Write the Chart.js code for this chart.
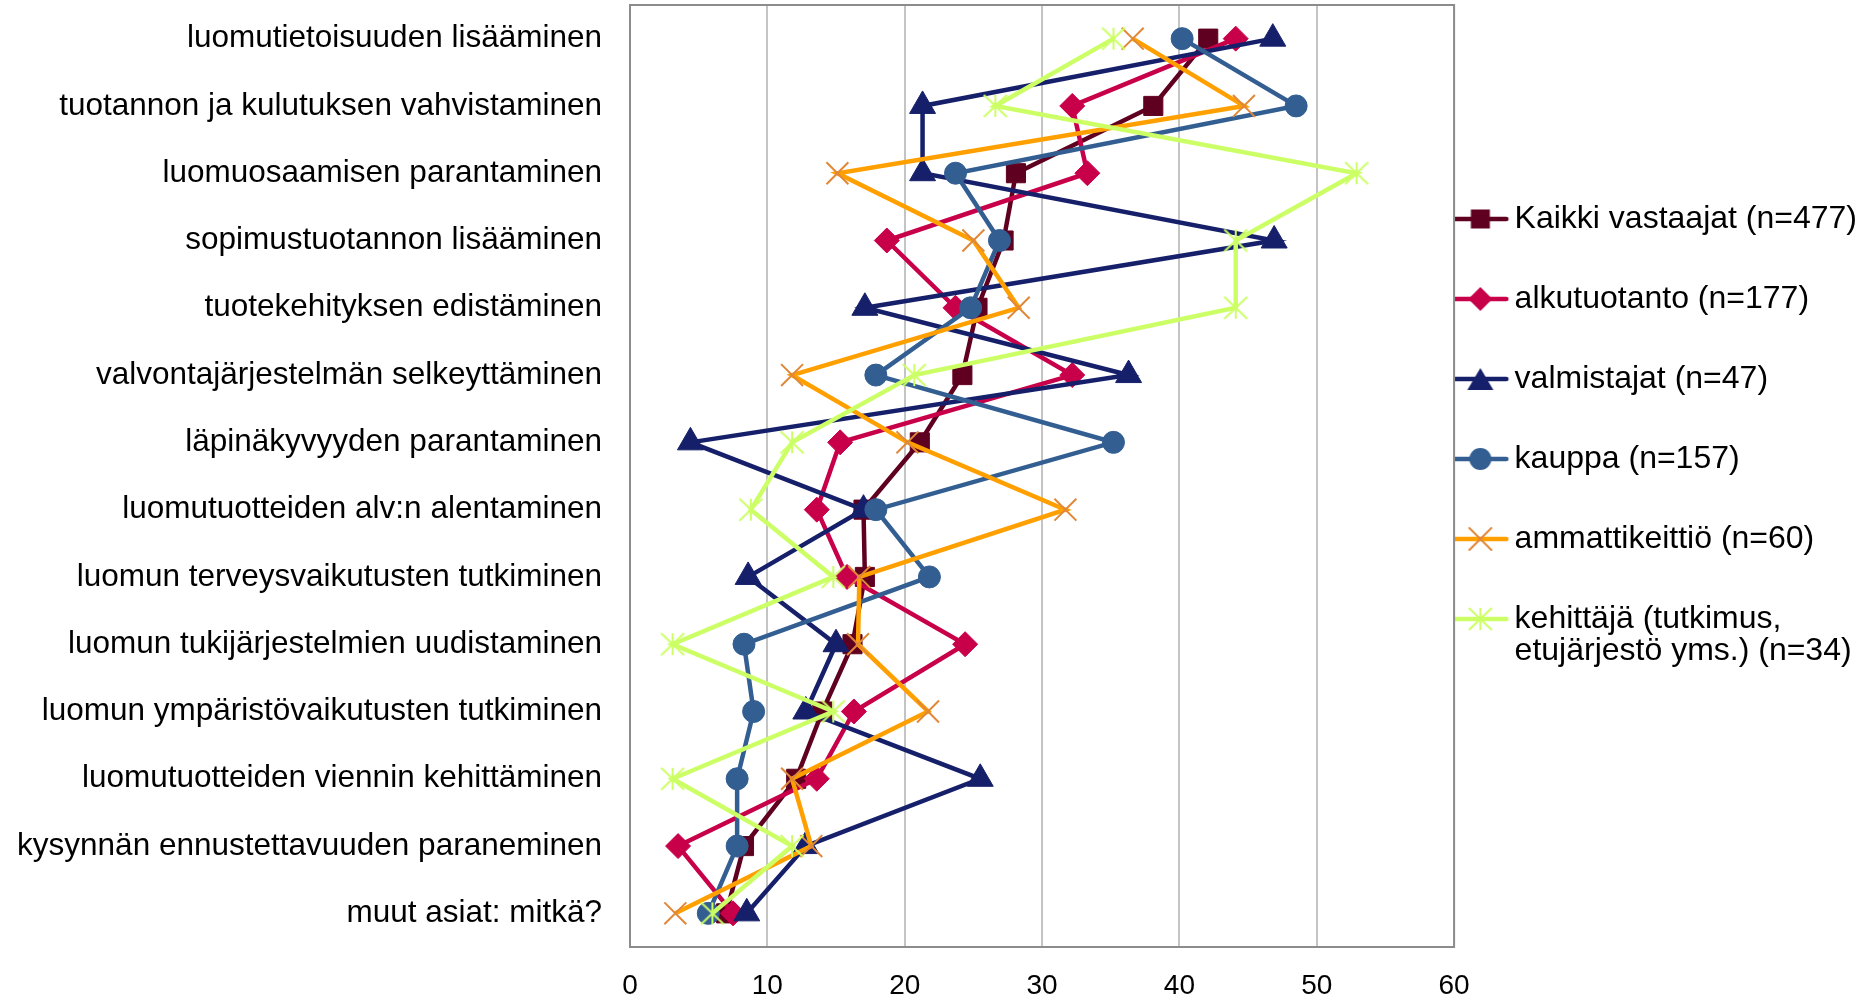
<!DOCTYPE html>
<html>
<head>
<meta charset="utf-8">
<script src="https://cdn.jsdelivr.net/npm/chart.js@4/dist/chart.umd.min.js"></script>
<style>
body { margin: 0; background: #fff; }
#wrap { position: relative; width: 1874px; height: 999px; }
</style>
</head>
<body>
<div id="wrap"><canvas id="myChart" width="1874" height="999"></canvas></div>
<script>
const categories = [
    'luomutietoisuuden lisääminen',
    'tuotannon ja kulutuksen vahvistaminen',
    'luomuosaamisen parantaminen',
    'sopimustuotannon lisääminen',
    'tuotekehityksen edistäminen',
    'valvontajärjestelmän selkeyttäminen',
    'läpinäkyvyyden parantaminen',
    'luomutuotteiden alv:n alentaminen',
    'luomun terveysvaikutusten tutkiminen',
    'luomun tukijärjestelmien uudistaminen',
    'luomun ympäristövaikutusten tutkiminen',
    'luomutuotteiden viennin kehittäminen',
    'kysynnän ennustettavuuden paraneminen',
    'muut asiat: mitkä?'
];

const seriesNames = [
    'Kaikki vastaajat (n=477)',
    'alkutuotanto (n=177)',
    'valmistajat (n=47)',
    'kauppa (n=157)',
    'ammattikeittiö (n=60)',
    'kehittäjä (tutkimus,\netujärjestö yms.) (n=34)'
];

const kaikki     = [42.1, 38.1, 28.1, 27.2, 25.3, 24.2, 21.1, 17.0, 17.1, 16.2, 14.0, 12.1, 8.3, 7.0];
const alku       = [44.1, 32.2, 33.3, 18.7, 23.7, 32.2, 15.3, 13.6, 15.8, 24.4, 16.3, 13.6, 3.5, 7.5];
const valmistaja = [46.8, 21.3, 21.3, 46.9, 17.1, 36.3, 4.4, 17.0, 8.6, 15.0, 12.8, 25.5, 12.8, 8.5];
const kauppa     = [40.2, 48.5, 23.7, 26.9, 24.8, 17.9, 35.2, 17.9, 21.8, 8.3, 9.0, 7.8, 7.8, 5.7];
const ammatti    = [36.6, 44.7, 15.1, 25.0, 28.3, 11.8, 20.2, 31.7, 16.7, 16.6, 21.7, 11.8, 13.2, 3.3];
const kehittaja  = [35.2, 26.6, 52.9, 44.1, 44.1, 20.7, 11.8, 8.8, 14.8, 3.1, 14.8, 3.1, 11.8, 6.0];

const xTicks = [0, 10, 20, 30, 40, 50, 60];

const lineColors   = ['#600020', '#c8004a', '#16206a', '#335e92', '#ffa000', '#ccff66'];
const markerColors = ['#600020', '#c8004a', '#16206a', '#335e92', '#e0883a', '#ccff66'];
const markerStyles = ['rect', 'rectRot', 'triangle', 'circle', 'crossRot', 'star'];

Chart.defaults.font.family = '"Liberation Sans", Arial, sans-serif';
Chart.defaults.color = '#000';

// excel style star: X + vertical bar
function makeStar(color){
    const c = document.createElement('canvas');
    c.width = 26; c.height = 26;
    const g = c.getContext('2d');
    g.strokeStyle = color;
    g.lineWidth = 2;
    g.beginPath();
    g.moveTo(13, 2); g.lineTo(13, 24);
    g.moveTo(1.5, 2); g.lineTo(24.5, 24);
    g.moveTo(24.5, 2); g.lineTo(1.5, 24);
    g.stroke();
    return c;
}

function drawMarker(g, style, x, y, color){
    g.fillStyle = color;
    g.strokeStyle = color;
    g.beginPath();
    if (style == 'rect') {
        g.rect(x - 9.5, y - 9.5, 19, 19);
        g.fill();
    } else if (style == 'rectRot') {
        g.moveTo(x - 12, y); g.lineTo(x, y - 12); g.lineTo(x + 12, y); g.lineTo(x, y + 12);
        g.closePath(); g.fill();
    } else if (style == 'triangle') {
        g.moveTo(x, y - 11); g.lineTo(x + 13, y + 11); g.lineTo(x - 13, y + 11);
        g.closePath(); g.fill();
    } else if (style == 'circle') {
        g.arc(x, y, 11, 0, Math.PI * 2);
        g.fill();
    } else if (style == 'crossRot') {
        g.lineWidth = 2;
        g.moveTo(x - 11, y - 11); g.lineTo(x + 11, y + 11);
        g.moveTo(x + 11, y - 11); g.lineTo(x - 11, y + 11);
        g.stroke();
    } else {
        g.drawImage(makeStar(color), x - 13, y - 13);
    }
}

// legend icon = short line + marker
function makeLegendIcon(i){
    const c = document.createElement('canvas');
    c.width = 64; c.height = 28;
    const g = c.getContext('2d');
    g.strokeStyle = lineColors[i];
    g.lineWidth = 4.5;
    g.lineCap = 'round';
    g.beginPath();
    g.moveTo(2, 14); g.lineTo(54, 14);
    g.stroke();
    drawMarker(g, markerStyles[i], 28, 14, markerColors[i]);
    return c;
}

const pointRadius = [13.5, 12.5, 15, 11, 15.5, 13];
const allData = [kaikki, alku, valmistaja, kauppa, ammatti, kehittaja];

const datasets = [];
for (let i = 0; i < allData.length; i++) {
    datasets.push({
        label: seriesNames[i],
        data: allData[i],
        borderColor: lineColors[i],
        backgroundColor: markerColors[i],
        borderWidth: 4.5,
        pointStyle: markerStyles[i] == 'star' ? makeStar(markerColors[i]) : markerStyles[i],
        pointRadius: pointRadius[i],
        pointHoverRadius: pointRadius[i],
        pointBackgroundColor: markerColors[i],
        pointBorderColor: markerColors[i],
        pointBorderWidth: markerStyles[i] == 'crossRot' ? 2 : 1,
        tension: 0,
        order: allData.length - 1 - i
    });
}

const plotBorder = {
    id: 'plotBorder',
    beforeDatasetsDraw(chart) {
        const a = chart.chartArea;
        const g = chart.ctx;
        g.save();
        g.strokeStyle = '#8c8c8c';
        g.lineWidth = 2;
        g.strokeRect(a.left, a.top, a.right - a.left, a.bottom - a.top);
        g.restore();
    }
};

const config = {
    type: 'line',
    data: {
        labels: categories,
        datasets: datasets
    },
    options: {
        indexAxis: 'y',
        responsive: false,
        animation: false,
        layout: {
            autoPadding: false,
            padding: { top: 5, right: 7, bottom: 0, left: 0 }
        },
        scales: {
            x: {
                type: 'linear',
                min: 0,
                max: 60,
                afterBuildTicks: function(scale){
                    scale.ticks = xTicks.map(v => ({ value: v }));
                },
                afterFit: function(scale){
                    scale.height = 52;
                    scale.paddingLeft = 0;
                    scale.paddingRight = 0;
                },
                grid: { color: '#c4c4c4', lineWidth: 2, drawTicks: false },
                border: { display: false },
                ticks: { font: { size: 28 }, padding: 22, color: '#000' }
            },
            y: {
                type: 'category',
                offset: true,
                afterFit: function(scale){
                    scale.width = 630;
                    scale.paddingTop = 0;
                    scale.paddingBottom = 0;
                },
                grid: { display: false },
                border: { display: false },
                ticks: { font: { size: 31.5 }, padding: 20, color: '#000', autoSkip: false }
            }
        },
        plugins: {
            tooltip: { enabled: false },
            legend: {
                position: 'right',
                align: 'start',
                title: { display: true, text: '', font: { size: 10, lineHeight: 1 }, padding: { top: 0, bottom: 172 } },
                labels: {
                    usePointStyle: true,
                    pointStyleWidth: 28.5,
                    padding: 16,
                    font: { size: 32, lineHeight: 1.0 },
                    color: '#000',
                    generateLabels: function(chart){
                        return chart.data.datasets.map(function(ds, i){
                            const text = seriesNames[i].split('\n');
                            if (text.length < 2) text.push('');
                            return {
                                text: text,
                                fillStyle: lineColors[i],
                                strokeStyle: lineColors[i],
                                lineWidth: 0,
                                pointStyle: makeLegendIcon(i),
                                hidden: false,
                                datasetIndex: i,
                                fontColor: '#000'
                            };
                        });
                    }
                }
            }
        }
    },
    plugins: [plotBorder]
};

const myChart = new Chart(document.getElementById('myChart'), config);
</script>
</body>
</html>
